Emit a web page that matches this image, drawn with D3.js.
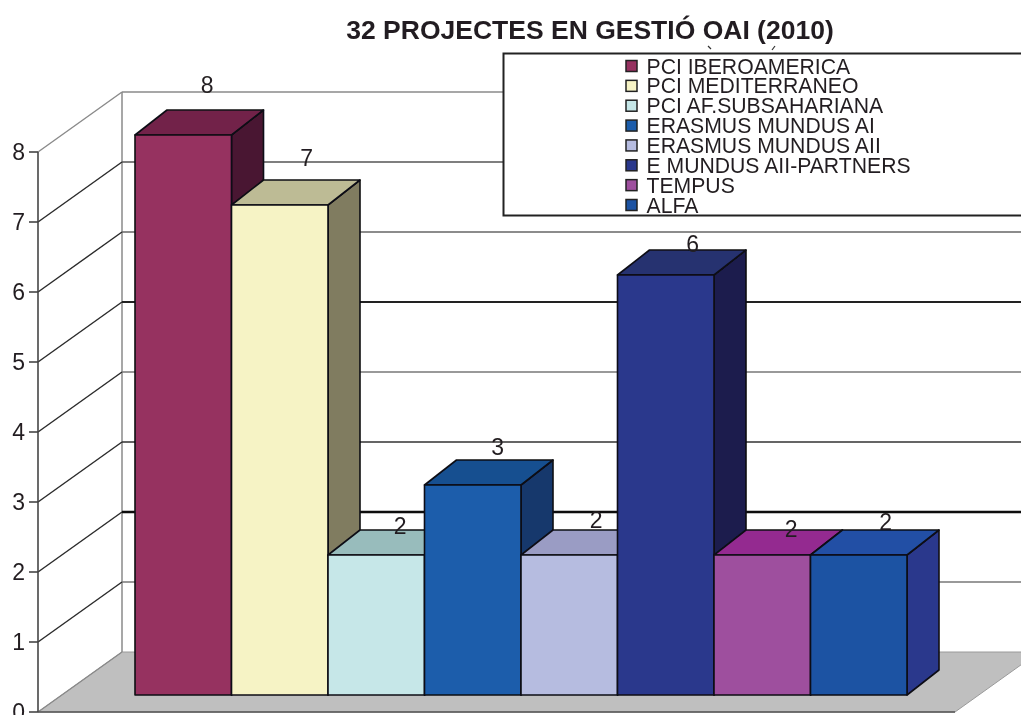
<!DOCTYPE html>
<html><head><meta charset="utf-8">
<script src="https://cdn.jsdelivr.net/npm/d3@7"></script>
<style>html,body{margin:0;padding:0;background:#fff;overflow:hidden}svg{display:block}text{font-family:"Liberation Sans",Arial,sans-serif;fill:#231f20}</style>
</head><body><svg id="c" width="1021" height="715"></svg>
<script>
const chartTitle = "32 PROJECTES EN GESTIÓ OAI (2010)";
const categories = ["PCI IBEROAMERICA","PCI MEDITERRANEO","PCI AF.SUBSAHARIANA","ERASMUS MUNDUS AI","ERASMUS MUNDUS AII","E MUNDUS AII-PARTNERS","TEMPUS","ALFA"];
const values = [8,7,2,3,2,6,2,2];
const yTicks = [0,1,2,3,4,5,6,7,8];
const frontColors = ["#963060","#f6f3c5","#c6e7e8","#1a5dab","#b6bce0","#2b388c","#9e4f9e","#1a52a3"];
const topColors   = ["#72244a","#bdbb95","#98bcbc","#155090","#9a9cc4","#27306f","#942c90","#2350a5"];
const sideColors  = ["#4a1830","#807c60","#6f8a8a","#15386c","#74769a","#1c1e4e","#6a2a6a","#2b388c"];
const gridColors  = ["#8a8a8a","#777","#111","#333","#777","#222","#666","#555","#8a8a8a"];
const gridWidths  = [1.2,1.6,2.4,1.7,1.5,2.2,1.6,1.6,1.5];
const labelDx = [24,27,24,25,27,27,29,27];
const labelDy = [-25,-22,-4,-13,-10,-6,-1,-8];

const svg = d3.select("#c");
svg.append("defs").append("filter").attr("id","soft").attr("x","-2%").attr("y","-2%").attr("width","104%").attr("height","104%")
  .append("feGaussianBlur").attr("stdDeviation",0.45);
const g = svg.append("g").attr("filter","url(#soft)");
const y = d3.scaleLinear().domain([0,8]).range([712,152]);
const x = d3.scaleBand().domain(categories).range([135,907]).padding(0);
const wallDx = 84, wallDy = -60;
const barDx = 32, barDy = -25, barFront = -17;
const floorRight = 955;
const line = d3.line();

// floor
g.append("path").attr("d", line([[38,y(0)],[38+wallDx,y(0)+wallDy],[floorRight+wallDx,y(0)+wallDy],[floorRight,y(0)]])+"Z")
 .attr("fill","#bfbfbf").attr("stroke","#9a9a9a").attr("stroke-width",1);
// back wall vertical + grid
g.append("line").attr("x1",38+wallDx).attr("x2",38+wallDx).attr("y1",y(0)+wallDy).attr("y2",y(8)+wallDy).attr("stroke","#8a8a8a").attr("stroke-width",1.5);
yTicks.forEach((t,i)=>{
  const diag = (t===8||t===0) ? "#8a8a8a" : "#2a2a2a";
  g.append("line").attr("x1",38).attr("y1",y(t)).attr("x2",38+wallDx).attr("y2",y(t)+wallDy).attr("stroke",diag).attr("stroke-width",1.4);
  if(t>0){
    g.append("line").attr("x1",38+wallDx).attr("y1",y(t)+wallDy).attr("x2",1021).attr("y2",y(t)+wallDy).attr("stroke",gridColors[i]).attr("stroke-width",gridWidths[i]);
  }
});
// axis
g.append("line").attr("x1",38).attr("x2",38).attr("y1",y(0)).attr("y2",y(8)).attr("stroke","#444").attr("stroke-width",1.6);
g.append("line").attr("x1",38).attr("x2",floorRight).attr("y1",y(0)).attr("y2",y(0)).attr("stroke","#555").attr("stroke-width",1.5);
yTicks.forEach(t=>{
  g.append("line").attr("x1",29).attr("x2",38).attr("y1",y(t)).attr("y2",y(t)).attr("stroke","#444").attr("stroke-width",1.6);
  g.append("text").attr("x",25).attr("y",y(t)).attr("dy","0.36em").attr("text-anchor","end").attr("font-size",23).text(t);
});
// bars
const base = y(0)+barFront;
const bw = x.bandwidth();
categories.forEach((c,i)=>{
  const x0 = x(c), x1 = x0+bw, top = base-(y(0)-y(values[i]));
  const bar = g.append("g").attr("stroke","#0d0d14").attr("stroke-width",1.6).attr("stroke-linejoin","round");
  bar.append("path").attr("d",line([[x1,top],[x1+barDx,top+barDy],[x1+barDx,base+barDy],[x1,base]])+"Z").attr("fill",sideColors[i]);
  bar.append("path").attr("d",line([[x0,top],[x0+barDx,top+barDy],[x1+barDx,top+barDy],[x1,top]])+"Z").attr("fill",topColors[i]);
  bar.append("rect").attr("x",x0).attr("y",top).attr("width",bw).attr("height",base-top).attr("fill",frontColors[i]);
});
// value labels
categories.forEach((c,i)=>{
  const top = base-(y(0)-y(values[i]));
  g.append("text").attr("x",x(c)+bw/2+labelDx[i]).attr("y",top+barDy+labelDy[i]).attr("dy","0.36em").attr("text-anchor","middle").attr("font-size",23).text(values[i]);
});
// legend
g.append("rect").attr("x",503.5).attr("y",53.5).attr("width",530).attr("height",162).attr("fill","#fff").attr("stroke","#222").attr("stroke-width",2);
const ly = d3.scalePoint().domain(categories).range([66,205]);
categories.forEach((c,i)=>{
  g.append("rect").attr("x",626).attr("y",ly(c)-5.5).attr("width",11).attr("height",11).attr("fill",frontColors[i]).attr("stroke","#222").attr("stroke-width",1.5);
  g.append("text").attr("x",646.5).attr("y",ly(c)).attr("dy","0.36em").attr("font-size",21.2).attr("font-weight",300).attr("fill","#2f2c2d").text(c);
});
// remnants of clipped text just above the legend box
g.append("line").attr("x1",708).attr("y1",46).attr("x2",711).attr("y2",49).attr("stroke","#333").attr("stroke-width",1.2);
g.append("line").attr("x1",775).attr("y1",46).attr("x2",772).attr("y2",50).attr("stroke","#333").attr("stroke-width",1.2);
// title
g.append("text").attr("x",590).attr("y",39).attr("text-anchor","middle").attr("font-size",26.5).attr("font-weight","bold").text(chartTitle);
</script></body></html>
